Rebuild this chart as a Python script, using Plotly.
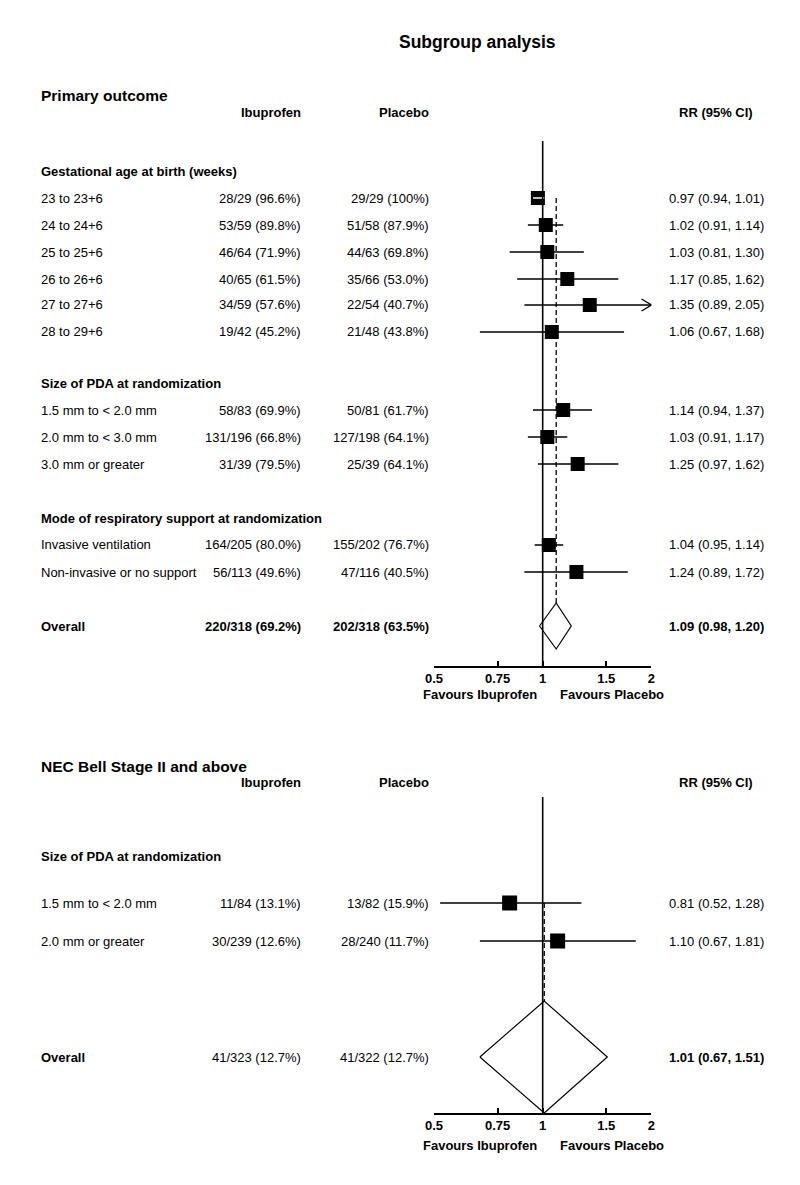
import math
import plotly.graph_objects as go

W, H = 800, 1185
FONT = "Liberation Sans, Arial, Helvetica, sans-serif"

# ---------------- data: panel 1 (Primary outcome) ----------------
p1_title = "Primary outcome"
p1_sections = ["Gestational age at birth (weeks)",
               "Size of PDA at randomization",
               "Mode of respiratory support at randomization"]
p1_labels = ["23 to 23+6", "24 to 24+6", "25 to 25+6", "26 to 26+6",
             "27 to 27+6", "28 to 29+6",
             "1.5 mm to < 2.0 mm", "2.0 mm to < 3.0 mm", "3.0 mm or greater",
             "Invasive ventilation", "Non-invasive or no support"]
p1_ibu = ["28/29 (96.6%)", "53/59 (89.8%)", "46/64 (71.9%)", "40/65 (61.5%)",
          "34/59 (57.6%)", "19/42 (45.2%)",
          "58/83 (69.9%)", "131/196 (66.8%)", "31/39 (79.5%)",
          "164/205 (80.0%)", "56/113 (49.6%)"]
p1_pla = ["29/29 (100%)", "51/58 (87.9%)", "44/63 (69.8%)", "35/66 (53.0%)",
          "22/54 (40.7%)", "21/48 (43.8%)",
          "50/81 (61.7%)", "127/198 (64.1%)", "25/39 (64.1%)",
          "155/202 (76.7%)", "47/116 (40.5%)"]
p1_rr = [0.97, 1.02, 1.03, 1.17, 1.35, 1.06, 1.14, 1.03, 1.25, 1.04, 1.24]
p1_lo = [0.94, 0.91, 0.81, 0.85, 0.89, 0.67, 0.94, 0.91, 0.97, 0.95, 0.89]
p1_hi = [1.01, 1.14, 1.30, 1.62, 2.05, 1.68, 1.37, 1.17, 1.62, 1.14, 1.72]
p1_overall_ibu = "220/318 (69.2%)"
p1_overall_pla = "202/318 (63.5%)"
p1_overall_rr, p1_overall_lo, p1_overall_hi = 1.09, 0.98, 1.20

# ---------------- data: panel 2 (NEC) ----------------
p2_title = "NEC Bell Stage II and above"
p2_sections = ["Size of PDA at randomization"]
p2_labels = ["1.5 mm to < 2.0 mm", "2.0 mm or greater"]
p2_ibu = ["11/84 (13.1%)", "30/239 (12.6%)"]
p2_pla = ["13/82 (15.9%)", "28/240 (11.7%)"]
p2_rr = [0.81, 1.10]
p2_lo = [0.52, 0.67]
p2_hi = [1.28, 1.81]
p2_overall_ibu = "41/323 (12.7%)"
p2_overall_pla = "41/322 (12.7%)"
p2_overall_rr, p2_overall_lo, p2_overall_hi = 1.01, 0.67, 1.51

tick_vals = [0.5, 0.75, 1, 1.5, 2]
tick_text = ["0.5", "0.75", "1", "1.5", "2"]
x_min, x_max = 0.5, 2.0

# ---------------- layout constants (pixels) ----------------
AX_L, AX_R = 432, 653
COL_LABEL, COL_IBU, COL_PLA, COL_RR = 32, 298, 428, 719
P1 = dict(title_y=96, head_y=113, sec_y=[171, 384, 518],
          rows=[198, 225, 252, 279, 305, 332, 410, 437, 464, 545, 572],
          overall_y=626, top=141, axis=666, dia_h=23, box=14,
          fav_y=694, ovl_bold_vals=True)
P2 = dict(title_y=766, head_y=782, sec_y=[856],
          rows=[903, 941], overall_y=1057, top=797, axis=1113, dia_h=56,
          box=15, fav_y=1145, ovl_bold_vals=False)

PPD = (AX_R - AX_L) / (math.log10(x_max) - math.log10(x_min))  # px per decade

fig = go.Figure()
ann = []


def A(text, x, y, anchor="left", size=13, bold=False):
    if bold:
        text = "<b>" + text + "</b>"
    ann.append(dict(text=text.replace("< ", "&lt; "),
                    x=x / W, y=1 - y / H, xref="paper", yref="paper",
                    xanchor=anchor, yanchor="middle", showarrow=False,
                    borderpad=0,
                    font=dict(family=FONT, size=size, color="black")))


def panel(P, xa, ya, title, sections, labels, ibu, pla, rr, lo, hi,
          o_ibu, o_pla, o_rr, o_lo, o_hi):
    A(title, COL_LABEL, P["title_y"], size=15.5, bold=True)
    A("Ibuprofen", COL_IBU, P["head_y"], anchor="right", bold=True)
    A("Placebo", COL_PLA, P["head_y"], anchor="right", bold=True)
    A("RR (95% CI)", COL_RR, P["head_y"], anchor="center", bold=True)
    for s, sy in zip(sections, P["sec_y"]):
        A(s, COL_LABEL, sy, bold=True)
    ys = P["rows"]
    for i, y in enumerate(ys):
        A(labels[i], COL_LABEL, y)
        A(ibu[i], COL_IBU, y, anchor="right")
        A(pla[i], COL_PLA, y, anchor="right")
        A(f"{rr[i]:.2f} ({lo[i]:.2f}, {hi[i]:.2f})", COL_RR, y, anchor="center")
    oy = P["overall_y"]
    A("Overall", COL_LABEL, oy, bold=True)
    A(o_ibu, COL_IBU, oy, anchor="right", bold=P["ovl_bold_vals"])
    A(o_pla, COL_PLA, oy, anchor="right", bold=P["ovl_bold_vals"])
    A(f"{o_rr:.2f} ({o_lo:.2f}, {o_hi:.2f})", COL_RR, oy, anchor="center", bold=True)
    A("Favours Ibuprofen", 479, P["fav_y"], anchor="center", bold=True)
    A("Favours Placebo", 613, P["fav_y"], anchor="center", bold=True)

    # CI lines
    cx, cy = [], []
    arrow_x, arrow_y = [], []
    k = 10 ** (10 / PPD)
    for i, y in enumerate(ys):
        cx += [max(lo[i], x_min), min(hi[i], x_max), None]
        cy += [y, y, None]
        if hi[i] > x_max:
            arrow_x += [x_max / k, x_max, x_max / k, None]
            arrow_y += [y - 6, y, y + 6, None]
    fig.add_trace(go.Scatter(x=cx, y=cy, mode="lines", xaxis=xa, yaxis=ya,
                             line=dict(color="black", width=1.3),
                             hoverinfo="skip", showlegend=False))
    if arrow_x:
        fig.add_trace(go.Scatter(x=arrow_x, y=arrow_y, mode="lines", xaxis=xa,
                                 yaxis=ya, line=dict(color="black", width=1.3),
                                 hoverinfo="skip", showlegend=False))
    # boxes
    fig.add_trace(go.Scatter(x=rr, y=ys, mode="markers", xaxis=xa, yaxis=ya,
                             marker=dict(symbol="square", size=P["box"],
                                         color="black", line=dict(width=0)),
                             hoverinfo="skip", showlegend=False))
    # white CI line where the CI lies inside the box
    half = P["box"] / 2
    wx, wy = [], []
    for i, y in enumerate(ys):
        dl = (math.log10(rr[i]) - math.log10(lo[i])) * PPD
        dh = (math.log10(hi[i]) - math.log10(rr[i])) * PPD
        if dl <= half + 1 and dh <= half + 1:
            bl = rr[i] / 10 ** (half / PPD)
            br = rr[i] * 10 ** (half / PPD)
            wx += [max(lo[i], bl), min(hi[i], br), None]
            wy += [y, y, None]
    if wx:
        fig.add_trace(go.Scatter(x=wx, y=wy, mode="lines", xaxis=xa, yaxis=ya,
                                 line=dict(color="white", width=1.3),
                                 hoverinfo="skip", showlegend=False))
    # diamond
    h = P["dia_h"]
    fig.add_trace(go.Scatter(x=[o_lo, o_rr, o_hi, o_rr, o_lo],
                             y=[oy, oy - h, oy, oy + h, oy],
                             mode="lines", fill="toself", fillcolor="white",
                             xaxis=xa, yaxis=ya,
                             line=dict(color="black", width=1.2),
                             hoverinfo="skip", showlegend=False))
    # dashed overall line
    fig.add_trace(go.Scatter(x=[o_rr, o_rr], y=[ys[0], oy - h], mode="lines",
                             xaxis=xa, yaxis=ya,
                             line=dict(color="black", width=1.3, dash="5px,3px"),
                             hoverinfo="skip", showlegend=False))
    # line of no effect
    fig.add_trace(go.Scatter(x=[1, 1], y=[P["top"], P["axis"]], mode="lines",
                             xaxis=xa, yaxis=ya,
                             line=dict(color="black", width=1.6),
                             hoverinfo="skip", showlegend=False))


panel(P1, "x", "y", p1_title, p1_sections, p1_labels, p1_ibu, p1_pla,
      p1_rr, p1_lo, p1_hi, p1_overall_ibu, p1_overall_pla,
      p1_overall_rr, p1_overall_lo, p1_overall_hi)
panel(P2, "x2", "y2", p2_title, p2_sections, p2_labels, p2_ibu, p2_pla,
      p2_rr, p2_lo, p2_hi, p2_overall_ibu, p2_overall_pla,
      p2_overall_rr, p2_overall_lo, p2_overall_hi)

A("Subgroup analysis", 476, 42, anchor="center", size=17.5, bold=True)

xcommon = dict(type="log", range=[math.log10(x_min), math.log10(x_max)],
               domain=[AX_L / W, AX_R / W], showgrid=False, zeroline=False,
               showline=True, linecolor="black", linewidth=1.6,
               ticks="inside", ticklen=5, tickwidth=1.6, tickcolor="black",
               tickvals=tick_vals, ticktext=["<b>" + t + "</b>" for t in tick_text],
               tickfont=dict(family=FONT, size=13, color="black"),
               fixedrange=True)

fig.update_layout(
    width=W, height=H, autosize=False,
    margin=dict(l=0, r=0, t=0, b=0, pad=0),
    paper_bgcolor="white", plot_bgcolor="white",
    showlegend=False,
    xaxis=dict(xcommon, anchor="y"),
    xaxis2=dict(xcommon, anchor="y2"),
    yaxis=dict(domain=[1 - P1["axis"] / H, 1], range=[P1["axis"], 0],
               visible=False, fixedrange=True),
    yaxis2=dict(domain=[1 - P2["axis"] / H, 1 - 700 / H], range=[P2["axis"], 700],
                visible=False, fixedrange=True),
    annotations=ann,
)

fig.write_html("out.html", config={"displayModeBar": False},
               post_script="document.body.style.margin='0';")
